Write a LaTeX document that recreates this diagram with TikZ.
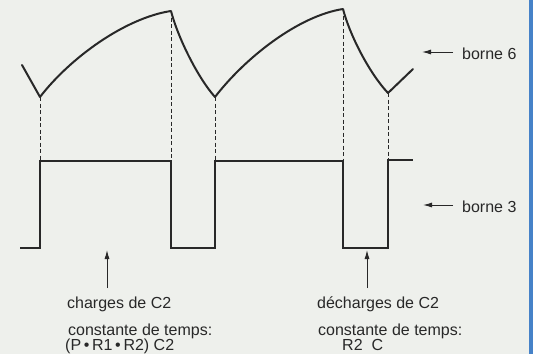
\documentclass[tikz,border=0pt]{standalone}
\usepackage{fontspec}
\setmainfont{Liberation Sans}
\usetikzlibrary{arrows.meta}
\definecolor{bgc}{RGB}{238,240,236}
\definecolor{edgeblue}{RGB}{70,130,200}
\definecolor{ink}{RGB}{40,40,40}
\tikzset{
  wave/.style={draw=ink, line width=2pt, line join=round, line cap=round},
  square/.style={draw=ink, line width=1.3pt, line join=miter},
  guide/.style={draw=ink, line width=0.8pt, dash pattern=on 4pt off 2.5pt},
  pointer/.style={draw=ink, line width=1pt, -{Latex[length=9pt,width=5pt]}},
  lbl/.style={anchor=base west, inner sep=0pt, text=ink, font=\fontsize{16}{18}\selectfont}
}
\begin{document}
\begin{tikzpicture}[x=1pt,y=-1pt]
\useasboundingbox (0,0) rectangle (533,354);
\fill[bgc] (0,0) rectangle (533,354);
\fill[edgeblue] (529,0) rectangle (533,354);
% key points of the capacitor voltage (borne 6)
\coordinate (s0) at (22,65);
\coordinate (m1) at (40,97);
\coordinate (p1) at (171,11);
\coordinate (m2) at (215,97);
\coordinate (p2) at (343,9);
\coordinate (m3) at (388,93);
\coordinate (e0) at (413,69);
\draw[wave] (s0) -- (m1)
  .. controls (70,58) and (125,18) .. (p1)
  .. controls (178,38) and (198,78) .. (m2)
  .. controls (245,58) and (298,16) .. (p2)
  .. controls (350,36) and (370,74) .. (m3)
  -- (e0);
% square wave (borne 3)
\coordinate (q0) at (20,248);
\coordinate (q1) at (40,248);
\coordinate (q2) at (40,161);
\coordinate (q3) at (171,161);
\coordinate (q4) at (171,248);
\coordinate (q5) at (215,248);
\coordinate (q6) at (215,161);
\coordinate (q7) at (343,161);
\coordinate (q8) at (343,248);
\coordinate (q9) at (388,248);
\coordinate (q10) at (388,160);
\coordinate (q11) at (413,160);
\draw[square] (q0) -- (q1) -- (q2) -- (q3) -- (q4) -- (q5) -- (q6) -- (q7) -- (q8) -- (q9) -- (q10) -- (q11);
% dashed guides
\draw[guide] (m1) -- (q2);
\draw[guide] (p1) -- (q3);
\draw[guide] (m2) -- (q6);
\draw[guide] (p2) -- (q7);
\draw[guide] (m3) -- (q10);
% side labels
\coordinate (a6) at (453,52);
\coordinate (b6) at (422,52);
\node[lbl] (t6) at (462,59) {borne 6};
\draw[pointer] (a6) -- (b6);
\coordinate (a3) at (453,205);
\coordinate (b3) at (423,205);
\node[lbl] (t3) at (462,212) {borne 3};
\draw[pointer] (a3) -- (b3);
% bottom pointers
\coordinate (c1) at (107,288);
\coordinate (c2) at (107,250);
\draw[pointer] (c1) -- (c2);
\coordinate (d1) at (367,288);
\coordinate (d2) at (367,250);
\draw[pointer] (d1) -- (d2);
% bottom texts
\node[lbl] (ch) at (67,308) {charges de C2};
\node[lbl] (ct1) at (68,335) {constante de temps:};
\node[lbl] (f1) at (65,350) {(P\,•\,R1\,•\,R2) C2};
\node[lbl] (dch) at (317,308) {décharges de C2};
\node[lbl] (ct2) at (318,335) {constante de temps:};
\node[lbl] (f2) at (342,350) {R2\ \ C};
\end{tikzpicture}
\end{document}
